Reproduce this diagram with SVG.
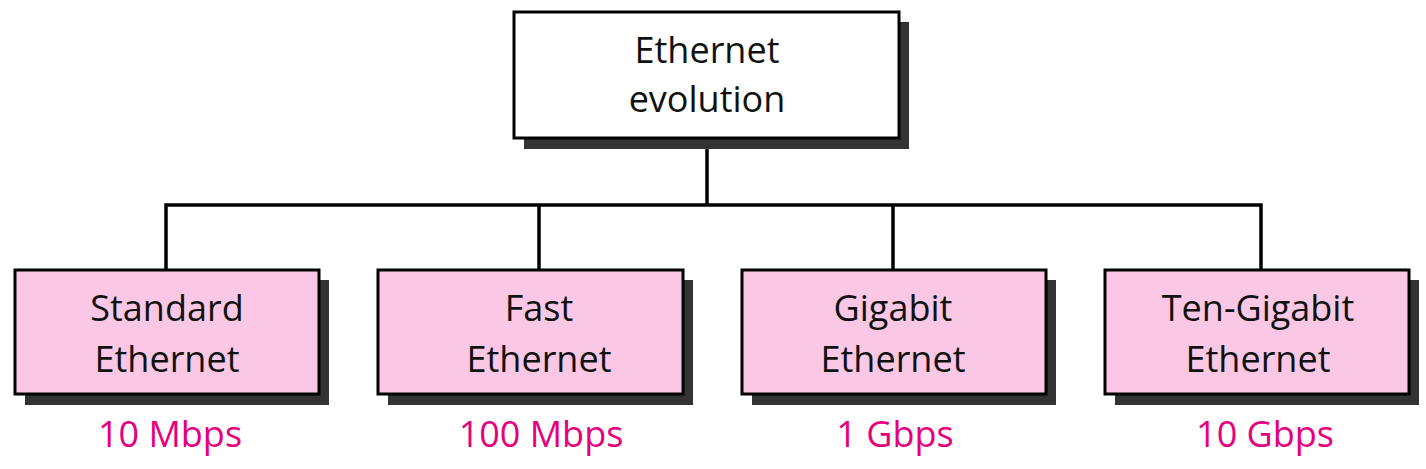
<svg xmlns="http://www.w3.org/2000/svg" width="1426" height="469" viewBox="0 0 1426 469">
<style>
.shadow{fill:#333333}
.box{stroke:#000;stroke-width:3}
.top{fill:#ffffff}
.pink{fill:#fac8e4}
.lbl{font-family:"Open Sans","Liberation Sans",sans-serif;font-size:36px;fill:#111;text-anchor:middle}
.spd{font-family:"Open Sans","Liberation Sans",sans-serif;font-size:36px;fill:#e6007e;text-anchor:middle}
.conn{fill:none;stroke:#000;stroke-width:3.5}
</style>
<rect width="1426" height="469" fill="#fff"/>
<g id="connectors">
<path class="conn" d="M707 138 V205 M166 270 V205 H1261 V270 M539 205 V270 M893 205 V270"/>
</g>
<g id="root">
<rect class="shadow" x="524" y="22" width="385" height="127"/>
<rect class="box top" x="514" y="12" width="385" height="126"/>
<text class="lbl" x="707" y="63">Ethernet</text>
<text class="lbl" x="707" y="112">evolution</text>
</g>
<g id="standard">
<rect class="shadow" x="25" y="280" width="304" height="125"/>
<rect class="box pink" x="15" y="270" width="304" height="124"/>
<text class="lbl" x="167" y="321">Standard</text>
<text class="lbl" x="167" y="372">Ethernet</text>
<text class="spd" x="170" y="447">10 Mbps</text>
</g>
<g id="fast">
<rect class="shadow" x="388" y="280" width="305" height="125"/>
<rect class="box pink" x="378" y="270" width="305" height="124"/>
<text class="lbl" x="539" y="321">Fast</text>
<text class="lbl" x="539" y="372">Ethernet</text>
<text class="spd" x="541" y="447">100 Mbps</text>
</g>
<g id="gigabit">
<rect class="shadow" x="752" y="280" width="304" height="125"/>
<rect class="box pink" x="742" y="270" width="304" height="124"/>
<text class="lbl" x="893" y="321">Gigabit</text>
<text class="lbl" x="893" y="372">Ethernet</text>
<text class="spd" x="895" y="447">1 Gbps</text>
</g>
<g id="tengigabit">
<rect class="shadow" x="1115" y="280" width="304" height="125"/>
<rect class="box pink" x="1105" y="270" width="304" height="124"/>
<text class="lbl" x="1258" y="321">Ten-Gigabit</text>
<text class="lbl" x="1258" y="372">Ethernet</text>
<text class="spd" x="1265" y="447">10 Gbps</text>
</g>
</svg>
